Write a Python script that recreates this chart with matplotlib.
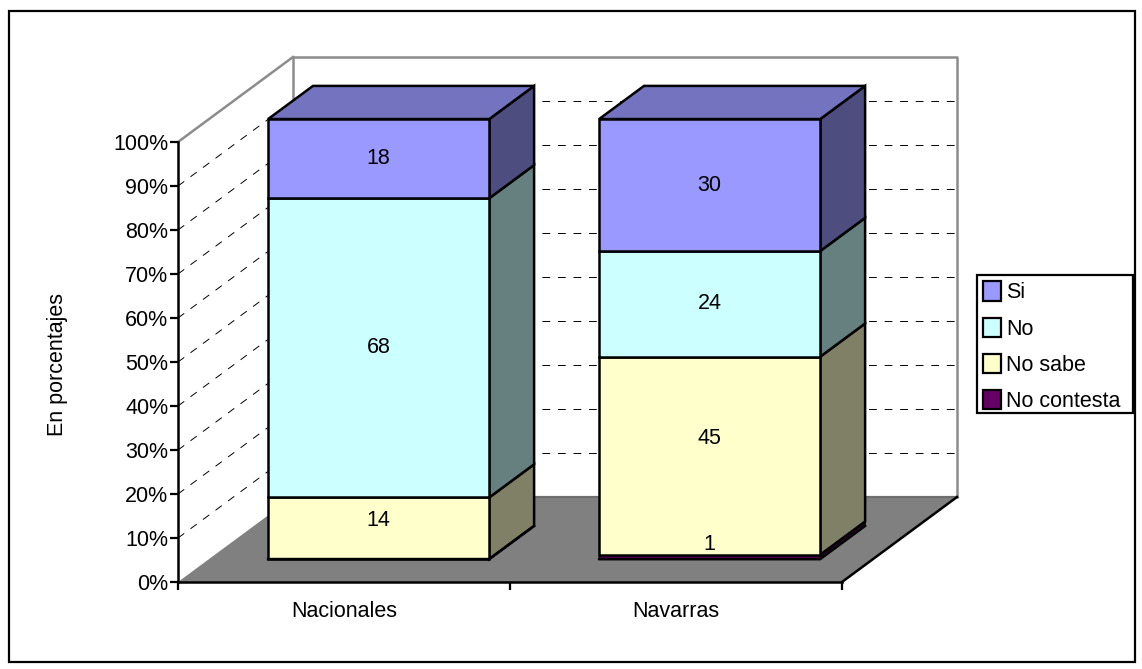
import matplotlib
matplotlib.use('Agg')
import matplotlib.pyplot as plt
from matplotlib.patches import Polygon, Patch, Rectangle

categories = ['Nacionales', 'Navarras']
series_names = ['No contesta', 'No sabe', 'No', 'Si']
no_contesta = [0, 1]
no_sabe = [14, 45]
no = [68, 24]
si = [18, 30]
series_values = [no_contesta, no_sabe, no, si]
yticks = list(range(0, 101, 10))

front_colors = ['#660066', '#FFFFCC', '#CCFFFF', '#9999FF']
side_colors = ['#330033', '#808066', '#668080', '#4D4D80']
top_colors = ['#4D004D', '#BFBF99', '#99BFBF', '#7373BF']

# 3d look: depth 1 is the back wall
DX = 115 / 332
DY = 85 / 4.4
bar_left = [0.178, 1.175]
bar_width = 0.666
d0, d1 = 0.27, 0.66
# labels in the lower segments sit above the middle
label_lift = {1: 2.8, 14: 1.8, 45: 4.0}


def proj(x, y, d):
    return (x + d * DX, y + d * DY)


plt.rcParams['font.family'] = ['Liberation Sans', 'DejaVu Sans']
plt.rcParams['font.size'] = 15.5

fig = plt.figure(figsize=(11.42, 6.69), dpi=100)
fig.add_artist(Rectangle((8.5 / 1142, 1 - 661.5 / 669), 1126 / 1142, 651 / 669, zorder=-1,
                         transform=fig.transFigure, fc='white', ec='black', lw=1.6))

ax = fig.add_axes([178 / 1142, 87 / 669, 664 / 1142, 440 / 669])
ax.set_xlim(0, 2)
ax.set_ylim(0, 100)
ax.patch.set_visible(False)
for s in ['top', 'right']:
    ax.spines[s].set_visible(False)
for s in ['left', 'bottom']:
    ax.spines[s].set_linewidth(1.8)
    ax.spines[s].set_zorder(3)

# walls and floor
ax.add_patch(Polygon([proj(0, 0, 0), proj(2, 0, 0), proj(2, 0, 1), proj(0, 0, 1)],
                     fc='#808080', ec='none', zorder=1, clip_on=False))
ax.plot(*zip(proj(0, 0, 1), proj(0, 100, 1), proj(2, 100, 1), proj(2, 0, 1)),
        color='#8C8C8C', lw=1.8, zorder=1, clip_on=False)
ax.plot(*zip(proj(0, 100, 0), proj(0, 100, 1)), color='#8C8C8C', lw=1.8, zorder=1, clip_on=False)
ax.plot(*zip(proj(2, 0, 0), proj(2, 0, 1)), color='black', lw=1.8, zorder=2, clip_on=False)
ax.plot(*zip(proj(0, 0, 1), proj(2, 0, 1)), color='#6E6E6E', lw=1.6, zorder=1, clip_on=False)

# dashed grid
for v in yticks[1:-1]:
    ax.plot(*zip(proj(0, v, 0), proj(0, v, 1)), color='black', lw=0.7,
            dashes=(8, 8), zorder=1, clip_on=False)
    ax.plot(*zip(proj(0, v, 1), proj(2, v, 1)), color='black', lw=0.7,
            dashes=(8, 8), zorder=1, clip_on=False)

# bars, drawn segment by segment
for i, cat in enumerate(categories):
    x0 = bar_left[i]
    x1 = x0 + bar_width
    base = 0
    for j, vals in enumerate(series_values):
        v = vals[i]
        if v == 0:
            continue
        top = base + v
        lw = 1.0 if v <= 1 else 1.8
        ax.add_patch(Polygon([proj(x1, base, d0), proj(x1, base, d1), proj(x1, top, d1), proj(x1, top, d0)],
                             fc=side_colors[j], ec='black', lw=lw, joinstyle='miter', zorder=4, clip_on=False))
        ax.add_patch(Polygon([proj(x0, base, d0), proj(x1, base, d0), proj(x1, top, d0), proj(x0, top, d0)],
                             fc=front_colors[j], ec='black', lw=lw, joinstyle='miter', zorder=5, clip_on=False))
        if j == len(series_values) - 1:
            ax.add_patch(Polygon([proj(x0, top, d0), proj(x1, top, d0), proj(x1, top, d1), proj(x0, top, d1)],
                                 fc=top_colors[j], ec='black', lw=lw, joinstyle='miter', zorder=4, clip_on=False))
        cx, cy = proj((x0 + x1) / 2, base + v / 2, d0)
        ax.text(cx, cy + label_lift.get(v, 0), str(v), ha='center', va='center', zorder=6, clip_on=False)
        base = top
    # heavy outline along the foot of the bar
    ax.plot(*zip(proj(x0, 0, d0), proj(x1, 0, d0), proj(x1, 0, d1)), color='black', lw=1.8,
            zorder=5.5, clip_on=False)

ax.set_yticks(yticks)
ax.set_yticklabels([f'{v}%' for v in yticks])
ax.set_xticks([0, 1, 2])
ax.set_xticklabels([])
ax.set_xticks([0.5, 1.5], minor=True)
ax.set_xticklabels(categories, minor=True)
ax.tick_params(axis='x', which='major', length=6, width=1.6)
ax.tick_params(axis='x', which='minor', length=0, pad=14)
ax.tick_params(axis='y', length=6, width=1.6, pad=1)
ax.set_ylabel('En porcentajes', labelpad=0)
ax.yaxis.set_label_coords(-110 / 664, 217 / 440)

fig.add_artist(Rectangle((977 / 1142, 1 - 413 / 669), 156 / 1142, 138 / 669, zorder=-0.5,
                         transform=fig.transFigure, fc='white', ec='black', lw=1.6))
handles = [Patch(fc=front_colors[k], ec='black', lw=1.6, label=series_names[k]) for k in [3, 2, 1, 0]]
leg = fig.legend(handles=handles, loc='upper left', bbox_to_anchor=(977 / 1142, 1 - 275 / 669),
                 frameon=False, handlelength=0.8, handleheight=1.0, handletextpad=0.25,
                 labelspacing=0.66, borderpad=0.3, borderaxespad=0, fontsize=15.5)

fig.savefig('out.png', dpi=100)
